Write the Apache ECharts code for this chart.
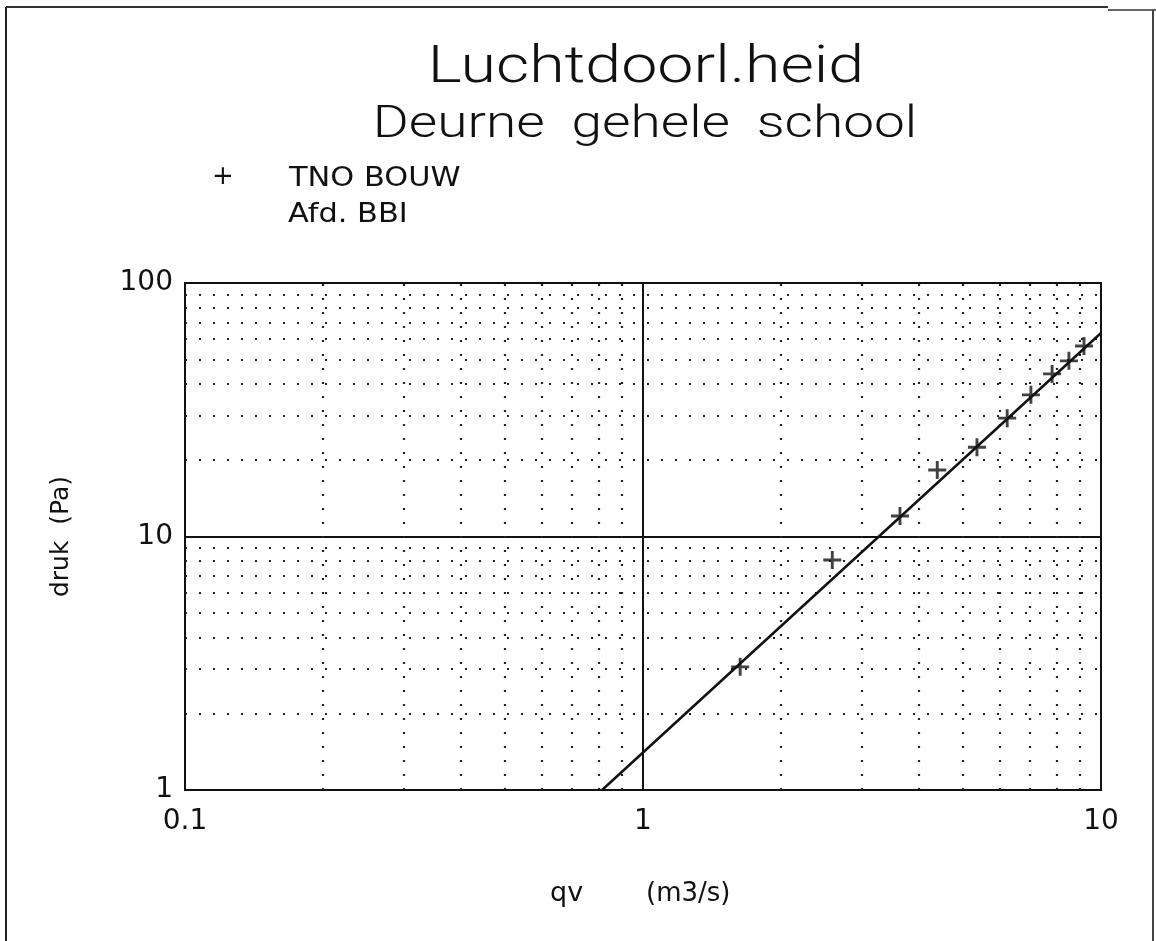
<!DOCTYPE html>
<html><head><meta charset="utf-8">
<script src="https://cdn.jsdelivr.net/npm/echarts@6/dist/echarts.min.js"></script>
<style>html,body{margin:0;padding:0;background:#fff}#c{width:1156px;height:941px}</style>
</head><body><div id="c"></div>
<script>
const titleText = 'Luchtdoorl.heid';
const subtitleText = 'Deurne  gehele  school';
const legendLines = ['TNO BOUW', 'Afd. BBI'];
const xAxisNameParts = ['qv', '(m3/s)'];
const yAxisName = 'druk  (Pa)';
const qv   = [1.63, 2.59, 3.64, 4.39, 5.36, 6.24, 7.03, 7.82, 8.51, 9.18];
const druk = [3.06, 8.08, 12.05, 18.3, 22.5, 29.3, 36.2, 43.8, 49.3, 56.4];
const fitQv = [0.814, 10];
const fitDruk = [1, 63.5];
const xMinorGrid = [0.2,0.3,0.4,0.5,0.6,0.7,0.8,0.9,2,3,4,5,6,7,8,9];
const yMinorGrid = [2,3,4,5,6,7,8,9,20,30,40,50,60,70,80,90];
const xTickLabels = {'0.1':'0.1','1':'1','10':'10'};
const yTickLabels = {'1':'1','10':'10','100':'100'};

const chart = echarts.init(document.getElementById('c'), null, {renderer:'canvas'});
const dotted = {color:'#222', width:2.2, type:[2,12]};
const labelFont = {fontFamily:'DejaVu Sans', fontSize:28, color:'#111'};
const sans = '"DejaVu Sans", sans-serif';
function txt(text, x, y, font, sx, align) {
  return {type:'text', x:x, y:y, scaleX:sx, silent:true,
    style:{text:text, x:0, y:0, font:font, fill:'#111', textAlign:align||'left', textVerticalAlign:'middle'}};
}
chart.setOption({
  animation:false,
  backgroundColor:'#fff',
  grid:{left:185, right:55, top:283, bottom:151, show:true, borderColor:'#111', borderWidth:2, backgroundColor:'transparent'},
  xAxis:{type:'log', logBase:10, min:0.1, max:10,
    axisLine:{show:true, lineStyle:{color:'#111', width:2}},
    axisTick:{show:false},
    axisLabel:Object.assign({margin:18, formatter:v=>xTickLabels[String(+v.toPrecision(3))]||''}, labelFont),
    splitLine:{show:true, lineStyle:{color:'#111', width:2}}},
  yAxis:{type:'log', logBase:10, min:1, max:100,
    name:yAxisName, nameLocation:'middle', nameGap:111, nameRotate:90,
    nameTextStyle:{fontFamily:'DejaVu Sans', fontSize:25, color:'#111'},
    axisLine:{show:true, lineStyle:{color:'#111', width:2}},
    axisTick:{show:false},
    axisLabel:Object.assign({margin:12, formatter:v=>yTickLabels[String(+v.toPrecision(3))]||''}, labelFont),
    splitLine:{show:true, lineStyle:{color:'#111', width:2}}},
  graphic:[
    {type:'line', shape:{x1:6,y1:7,x2:1108,y2:7}, style:{stroke:'#333', lineWidth:2}, silent:true},
    {type:'line', shape:{x1:1108,y1:10,x2:1156,y2:10}, style:{stroke:'#666', lineWidth:2}, silent:true},
    {type:'line', shape:{x1:6,y1:7,x2:6,y2:941}, style:{stroke:'#222', lineWidth:2}, silent:true},
    {type:'line', shape:{x1:1153,y1:10,x2:1153,y2:941}, style:{stroke:'#444', lineWidth:2}, silent:true},
    txt(titleText, 646, 69, '300 52px Roboto', 1.24, 'center'),
    txt(subtitleText, 645, 126, '300 44px Roboto', 1.25, 'center'),
    txt('+', 223, 177, '26px ' + sans, 1, 'center'),
    txt(legendLines[0], 289, 179, '26px ' + sans, 1.17, 'left'),
    txt(legendLines[1], 288, 215, '26px ' + sans, 1.17, 'left'),
    txt(xAxisNameParts[0], 550, 894, '27px ' + sans, 1, 'left'),
    txt(xAxisNameParts[1], 646, 894, '26px ' + sans, 1, 'left')
  ],
  series:[
    {type:'line', data:[], silent:true, markLine:{silent:true, symbol:'none', label:{show:false},
      lineStyle:dotted, data:xMinorGrid.map(v=>({xAxis:v}))}},
    {type:'line', data:[], silent:true, markLine:{silent:true, symbol:'none', label:{show:false},
      lineStyle:dotted, data:yMinorGrid.map(v=>({yAxis:v}))}},
    {type:'line', data:fitQv.map((x,i)=>[x,fitDruk[i]]), showSymbol:false, symbol:'none',
      lineStyle:{color:'#111', width:2.5}, silent:true, z:5},
    {type:'scatter', data:qv.map((x,i)=>[x,druk[i]]), symbol:'path://M4.2,0H5.8V4.2H10V5.8H5.8V10H4.2V5.8H0V4.2H4.2Z',
      symbolSize:18, itemStyle:{color:'#111'}, z:6}
  ]
});
</script></body></html>
